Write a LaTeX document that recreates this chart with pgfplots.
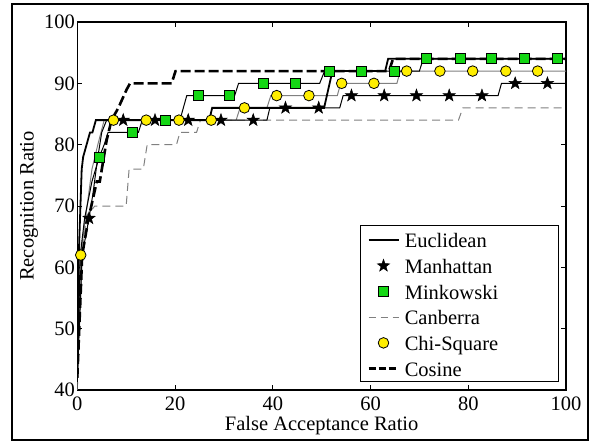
\documentclass[border=0pt]{standalone}
\usepackage{fontspec}
\setmainfont{Liberation Serif}
\usepackage{pgfplots}
\pgfplotsset{compat=1.18}
\definecolor{mgreen}{RGB}{20,215,20}
\definecolor{myellow}{RGB}{255,238,0}
% filled five-point star
\pgfdeclareplotmark{fstar}{%
  \pgfpathmoveto{\pgfqpointpolar{90}{\pgfplotmarksize}}%
  \pgfpathlineto{\pgfqpointpolar{126}{0.4\pgfplotmarksize}}%
  \pgfpathlineto{\pgfqpointpolar{162}{\pgfplotmarksize}}%
  \pgfpathlineto{\pgfqpointpolar{198}{0.4\pgfplotmarksize}}%
  \pgfpathlineto{\pgfqpointpolar{234}{\pgfplotmarksize}}%
  \pgfpathlineto{\pgfqpointpolar{270}{0.4\pgfplotmarksize}}%
  \pgfpathlineto{\pgfqpointpolar{306}{\pgfplotmarksize}}%
  \pgfpathlineto{\pgfqpointpolar{342}{0.4\pgfplotmarksize}}%
  \pgfpathlineto{\pgfqpointpolar{18}{\pgfplotmarksize}}%
  \pgfpathlineto{\pgfqpointpolar{54}{0.4\pgfplotmarksize}}%
  \pgfpathclose
  \pgfusepathqfillstroke}
\begin{document}
\begin{tikzpicture}[font=\fontsize{20.5}{24.6}\selectfont]
\begin{axis}[
  at={(0pt,0pt)}, anchor=south west,
  scale only axis, width=488.7pt, height=368pt,
  xmin=0, xmax=100, ymin=40, ymax=100,
  xtick={0,20,...,100}, ytick={40,50,...,100},
  tick align=inside, major tick length=5pt,
  axis line style={line width=1.2pt},
  tick style={black, line width=0.8pt},
  /pgf/number format/assume math mode=true,
  xticklabel style={inner sep=0pt, anchor=north, yshift=-6.7pt},
  yticklabel style={inner sep=0pt, anchor=east, xshift=-2.3pt},
  xlabel={False Acceptance Ratio}, ylabel={Recognition Ratio},
  xlabel style={at={(axis description cs:0.5,-0.1114)}, anchor=base, inner sep=0pt},
  ylabel style={at={(axis description cs:-0.0896,0.5)}, anchor=base, inner sep=0pt},
  legend image code/.code={\draw[mark repeat=2, mark phase=2, yshift=7.6pt, #1] plot coordinates {(0pt,0pt) (15pt,0pt) (30pt,0pt)};},
  legend style={at={(0.9857,0.0226)}, anchor=south east, draw=black, line width=1pt,
    font=\fontsize{20.5}{24.6}\selectfont,
    inner xsep=6.7pt, inner ysep=1pt, row sep=0.4pt, column sep=5pt,
    cells={anchor=base west},
    nodes={inner sep=0pt, text height=21.3pt, text depth=4pt}},
]
% markers (every tenth sample)
\addplot[forget plot, only marks, mark=fstar, mark size=6.5pt, mark options={fill=black, draw=black, line width=0.5pt}] coordinates {
(2.4,68) (9.4,84) (15.9,84) (22.7,84) (29.4,84) (36.0,84) (42.6,86) (49.4,86)
(56.1,88) (62.8,88) (69.4,88) (76.1,88) (82.8,88) (89.6,90) (96.2,90)};
\addplot[forget plot, only marks, mark=square*, mark size=5pt, mark options={fill=mgreen, draw=black, line width=0.8pt}] coordinates {
(4.5,78) (11.3,82) (18.0,84) (24.8,88) (31.2,88) (38.0,90) (44.7,90) (51.5,92)
(58.2,92) (64.8,92) (71.4,94) (78.3,94) (84.7,94) (91.5,94) (98.2,94)};
\addplot[forget plot, only marks, mark=*, mark size=5.3pt, mark options={fill=myellow, draw=black, line width=0.8pt}] coordinates {
(0.7,62) (7.4,84) (14.1,84) (20.8,84) (27.4,84) (34.2,86) (40.8,88) (47.4,88)
(54.1,90) (60.7,90) (67.4,92) (74.2,92) (80.9,92) (87.7,92) (94.2,92)};
% curves
% Canberra
\addplot[forget plot, gray, line width=1pt, dash pattern=on 8pt off 5pt] coordinates {
(0,40) (1.0,62) (1.9,68.5) (3.6,70) (10.0,70) (10.6,76) (13.5,76) (14.3,80) (20.3,80)
(21.0,82) (24.4,82) (25.2,84) (78.0,84) (78.9,86) (100,86)};
% Chi-Square
\addplot[forget plot, gray, line width=1pt] coordinates {
(0,42) (0.7,62) (2.0,70) (3.0,76) (4.2,80) (5.5,84) (32.5,84) (33.3,86) (38.8,86)
(39.6,88) (53.2,88) (53.9,90) (65.4,90) (66.1,92) (100,92)};
% Minkowski
\addplot[forget plot, black, line width=1pt] coordinates {
(0,42) (0.6,62) (1.5,68) (3.0,74) (4.5,78) (5.5,80) (6.3,82) (12.5,82) (13.3,84)
(21.0,84) (22.4,88) (32.2,88) (33.0,90) (49.6,90) (50.6,92) (70.0,92) (70.8,94) (100,94)};
% Manhattan
\addplot[forget plot, black, line width=1pt] coordinates {
(0,42) (1.0,62) (2.4,68) (3.2,72) (4.2,78) (5.0,82) (6.0,84) (38.8,84) (39.4,86)
(53.7,86) (54.4,88) (86.1,88) (86.8,90) (100,90)};
% Euclidean
\addplot[forget plot, black, line width=1.8pt] coordinates {
(0,42) (0.3,62) (0.9,76) (1.2,78) (2.6,82) (3.1,82) (3.8,84) (27.0,84) (27.6,86)
(50.5,86) (52.2,92) (63.0,92) (63.6,94) (100,94)};
% Cosine
\addplot[forget plot, black, line width=2.6pt, dash pattern=on 10pt off 4pt] coordinates {
(0,42) (1.0,62) (2.3,68) (4.0,74) (4.6,74) (6.0,80.7) (7.0,84) (8.4,86) (10.1,89)
(10.8,90) (19.3,90) (20.1,92) (63.8,92) (64.6,94) (100,94)};
% legend
\addlegendimage{black, line width=1.8pt}
\addlegendentry{\makebox[147pt][l]{Euclidean}}
\addlegendimage{only marks, mark=fstar, mark size=6.5pt, mark options={fill=black, draw=black, line width=0.5pt}}
\addlegendentry{\makebox[147pt][l]{Manhattan}}
\addlegendimage{only marks, mark=square*, mark size=5pt, mark options={fill=mgreen, draw=black, line width=0.8pt}}
\addlegendentry{\makebox[147pt][l]{Minkowski}}
\addlegendimage{gray, line width=1pt, dash pattern=on 7pt off 5pt}
\addlegendentry{\makebox[147pt][l]{Canberra}}
\addlegendimage{only marks, mark=*, mark size=5.3pt, mark options={fill=myellow, draw=black, line width=0.8pt}}
\addlegendentry{\makebox[147pt][l]{Chi-Square}}
\addlegendimage{black, line width=2.6pt, dash pattern=on 7pt off 3pt}
\addlegendentry{\makebox[147pt][l]{Cosine}}
\end{axis}
\pgfresetboundingbox
\path[use as bounding box] (-77.3pt,-52pt) rectangle (512.7pt,390pt);
\draw[line width=2.5pt] (-65.3pt,-50pt) rectangle (510.7pt,386pt);
\end{tikzpicture}
\end{document}
